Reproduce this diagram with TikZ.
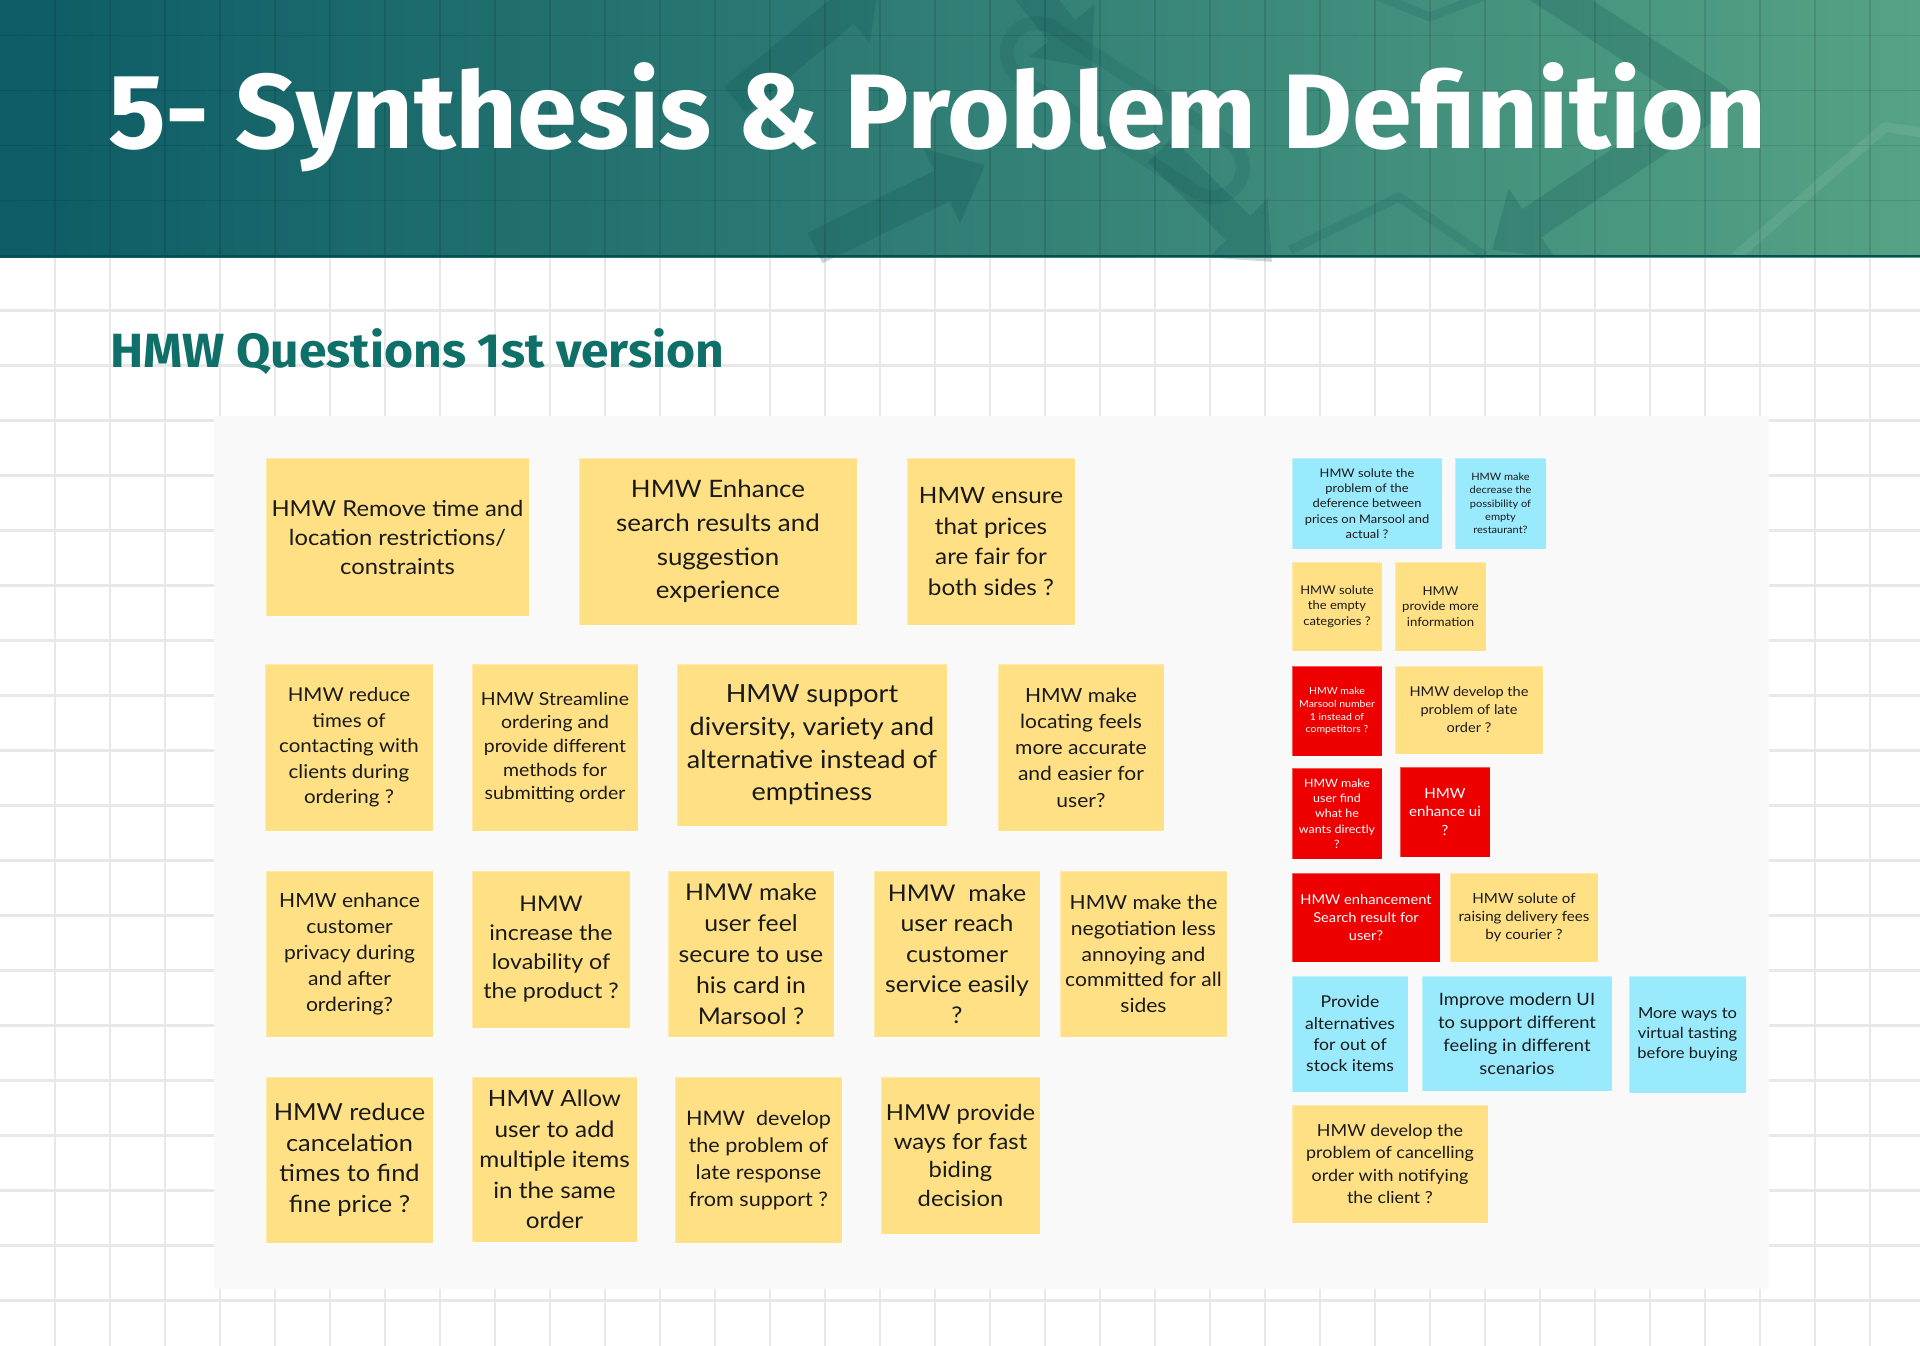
\documentclass[tikz,border=0pt]{standalone}
\usepackage{fontspec}
\usepackage{graphicx}
\setmainfont{Lato}
\newfontfamily\widefont{Lato}[FakeStretch=1.08]
\newfontfamily\titlefont{Fira Sans}
\usetikzlibrary{arrows.meta}
\definecolor{hdrL}{HTML}{0D5C66}
\definecolor{hdrR}{HTML}{55A285}
\definecolor{hdrLine}{HTML}{0B4E50}
\definecolor{subttl}{HTML}{0F6F69}
\definecolor{gridc}{HTML}{E8E8E8}
\definecolor{panelc}{HTML}{F9F9F9}
\definecolor{yelc}{HTML}{FFE084}
\definecolor{bluc}{HTML}{9AEAFD}
\definecolor{redc}{HTML}{EE0000}
\definecolor{inkc}{HTML}{1A1A1A}
\newcommand\fitw[2]{\sbox0{#2}\scalebox{\fpeval{#1/\the\wd0}}[1]{\usebox0}}
\newcommand\stk[9]{\node[#6, minimum width={(#4-#2)*1pt}, minimum height={(#5-#3)*1pt},
  font={\widefont\fontsize{#7}{#8}\selectfont}] (#1) at ({(#2+#4)/2},{(#3+#5)/2}) {#9};}
\tikzset{
  notebase/.style={inner sep=0pt, align=center, draw=white, draw opacity=0.35, line width=0.8pt},
  yel/.style={notebase, fill=yelc, text=inkc},
  blu/.style={notebase, fill=bluc, text=inkc},
  red/.style={notebase, fill=redc, text=white},
  hgrid/.style={gridc, line width=2.2pt},
  vgrid/.style={gridc, line width=1.4pt},
  hdrgrid/.style={black, opacity=0.10, line width=1.3pt},
  harr/.style={hdrLine, line width=34pt, -{Triangle[length=48pt,width=80pt]}},
}
\begin{document}
\begin{tikzpicture}[x=1pt,y=-1pt]
\useasboundingbox (0,0) rectangle (1920,1346);
\fill[white] (0,0) rectangle (1920,1346);
% body grid
\foreach \k in {5,...,24} \draw[hgrid] (0,{35.5+55*\k}) -- (1920,{35.5+55*\k});
\foreach \k in {1,...,34} \draw[vgrid] ({55*\k},257) -- ({55*\k},1346);
% header
\shade[left color=hdrL, right color=hdrR] (0,0) rectangle (1920,257);
\begin{scope}[transparency group, opacity=0.21]
  \draw[harr] (815,248) -- (985,165);
  \draw[harr] (1005,-40) -- (1092,68);
  \draw[harr] (735,100) -- (880,-20);
  \draw[harr] (1160,150) -- (1272,262);
  \draw[harr, line join=round] (1530,-20) -- (1715,100) -- (1492,250);
\end{scope}
\begin{scope}[transparency group, opacity=0.14]
  \draw[hdrLine, line width=14pt, rounded corners=30pt, rotate around={-33:(1125,110)}] (990,80) rectangle (1260,140);
  \draw[hdrLine, line width=9pt, line join=round] (1290,250) -- (1399,197) -- (1485,256);
  \draw[hdrLine, line width=9pt, line join=round] (1375,-5) -- (1430,17) -- (1486,-5);
\end{scope}
\draw[white, opacity=0.08, line width=10pt, line join=round] (1735,257) -- (1885,127) -- (1925,133);
\foreach \k in {0,...,4} \draw[hdrgrid] (0,{35.5+55*\k}) -- (1920,{35.5+55*\k});
\foreach \k in {1,...,34} \draw[hdrgrid] ({55*\k},0) -- ({55*\k},256);
\draw[hdrLine, line width=2.5pt] (0,256) -- (1920,256);
% titles
\node[anchor=base west, inner sep=0pt, text=white, font={\titlefont\bfseries\fontsize{106}{110}\selectfont}] (title) at (108,148) {\fitw{1658}{5- Synthesis \& Problem Definition}};
\node[anchor=base west, inner sep=0pt, text=subttl, font={\titlefont\bfseries\fontsize{48}{52}\selectfont}] (subtitle) at (110,367) {\fitw{614}{HMW Questions 1st version}};
% panel
\fill[panelc] (214,416) rectangle (1769,1289);
% left notes
\stk{q1}{266}{458}{529}{616}{yel}{22}{29}{HMW Remove time and\\location restrictions/\\constraints}
\stk{q2}{579}{458}{857}{625}{yel}{24}{33.7}{HMW Enhance\\search results and\\suggestion\\experience}
\stk{q3}{907}{458}{1075}{625}{yel}{22.5}{30.6}{HMW ensure\\that prices\\are fair for\\both sides ?}
\stk{q4}{265}{664}{433}{831}{yel}{19}{25.4}{HMW reduce\\times of\\contacting with\\clients during\\ordering ?}
\stk{q5}{472}{664}{638}{831}{yel}{18}{23.6}{HMW Streamline\\ordering and\\provide different\\methods for\\submitting order}
\stk{q6}{677}{664}{947}{826}{yel}{25}{32.7}{HMW support\\diversity, variety and\\alternative instead of\\emptiness}
\stk{q7}{998}{664}{1164}{831}{yel}{19.5}{26.3}{HMW make\\locating feels\\more accurate\\and easier for\\user?}
\stk{q8}{266}{871}{433}{1037}{yel}{19.5}{26}{HMW enhance\\customer\\privacy during\\and after\\ordering?}
\stk{q9}{472}{871}{630}{1028}{yel}{21.5}{29}{HMW\\increase the\\lovability of\\the product ?}
\stk{q10}{668}{871}{834}{1037}{yel}{23}{30.9}{HMW make\\user feel\\secure to use\\his card in\\Marsool ?}
\stk{q11}{874}{871}{1040}{1037}{yel}{23}{30.6}{HMW\ \ make\\user reach\\customer\\service easily\\?}
\stk{q12}{1060}{871}{1227}{1037}{yel}{19.5}{25.7}{HMW make the\\negotiation less\\annoying and\\committed for all\\sides}
\stk{q13}{266}{1077}{433}{1243}{yel}{23.5}{30.6}{HMW reduce\\cancelation\\times to find\\fine price ?}
\stk{q14}{472}{1077}{637}{1242}{yel}{22.5}{30.6}{HMW Allow\\user to add\\multiple items\\in the same\\order}
\stk{q15}{675}{1077}{842}{1243}{yel}{20}{27}{HMW\ \ develop\\the problem of\\late response\\from support ?}
\stk{q16}{881}{1077}{1040}{1234}{yel}{22}{28.8}{HMW provide\\ways for fast\\biding\\decision}
% right notes
\stk{r1}{1292}{458}{1442}{549}{blu}{11.9}{15.2}{HMW solute the\\problem of the\\deference between\\prices on Marsool and\\actual ?}
\stk{r2}{1455}{458}{1546}{549}{blu}{10.2}{13.3}{HMW make\\decrease the\\possibility of\\empty\\restaurant?}
\stk{r3}{1292}{562}{1382}{651}{yel}{12}{15.3}{HMW solute\\the empty\\categories ?}
\stk{r4}{1395}{562}{1486}{651}{yel}{12.2}{15.3}{HMW\\provide more\\information}
\stk{r5}{1292}{666}{1382}{756}{red}{9.7}{12.7}{HMW make\\Marsool number\\1 instead of\\competitors ?}
\stk{r6}{1395}{666}{1543}{754}{yel}{13.5}{18}{HMW develop the\\problem of late\\order ?}
\stk{r7}{1292}{768}{1382}{859}{red}{11.5}{15.3}{HMW make\\user find\\what he\\wants directly\\?}
\stk{r8}{1400}{767}{1490}{857}{red}{14}{18.3}{HMW\\enhance ui\\?}
\stk{r9}{1292}{873}{1440}{962}{red}{13.6}{18}{HMW enhancement\\Search result for\\user?}
\stk{r10}{1450}{873}{1598}{962}{yel}{14}{18}{HMW solute of\\raising delivery fees\\by courier ?}
\stk{r11}{1292}{976}{1408}{1092}{blu}{16.3}{21.3}{Provide\\alternatives\\for out of\\stock items}
\stk{r12}{1422}{976}{1612}{1091}{blu}{17}{23}{Improve modern UI\\to support different\\feeling in different\\scenarios}
\stk{r13}{1629}{976}{1746}{1093}{blu}{15.3}{20.3}{More ways to\\virtual tasting\\before buying}
\stk{r14}{1292}{1105}{1488}{1223}{yel}{16.6}{22.3}{HMW develop the\\problem of cancelling\\order with notifying\\the client ?}
\end{tikzpicture}
\end{document}
